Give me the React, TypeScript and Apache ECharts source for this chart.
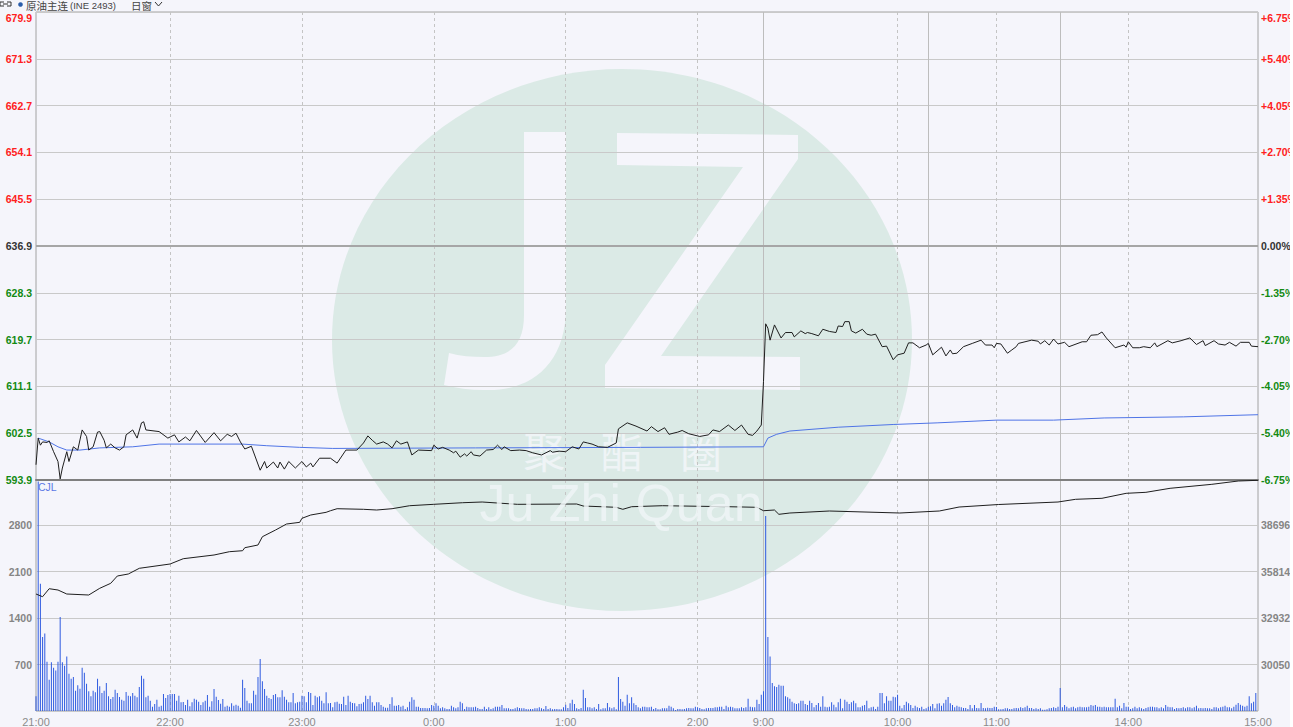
import React, { useEffect, useRef } from "react";
import * as echarts from "echarts";

const timeLabels: [number, string][] = [[0, "21:00"], [61, "22:00"], [121, "23:00"], [181, "0:00"], [241, "1:00"], [301, "2:00"], [331, "9:00"], [392, "10:00"], [437, "11:00"], [497, "14:00"], [556, "15:00"]];
const dashedTicks = [61, 121, 181, 241, 301, 392, 437, 497];
const solidTicks = [331, 406, 466];

const priceSeries: [number, number][] = [
[0,596.7],[1,601.6],[2,600.3],[3,600.9],[5,600.8],[6,601.1],[8,599.1],[10,597.3],[11,594.1],[12,596.1],[14,599.1],[15,597.3],[17,600],[19,599.4],[21,603.1],[23,601.9],[24,599.4],[26,600],[28,602.7],[29,602.8],[31,601.2],[32,599.8],[34,600.5],[36,599.8],[38,599.4],[40,600],[41,602.2],[44,603.1],[46,601.6],[48,604.4],[49,604.6],[50,603.1],[56,602.8],[60,601.6],[63,602.2],[65,600.9],[68,601.8],[70,601.1],[73,603],[77,600.8],[81,602.6],[84,601.1],[87,602.3],[89,601.9],[91,602.5],[93,600.9],[95,599.6],[98,600.1],[102,595.7],[104,597.3],[105,596.1],[108,597.2],[110,596.1],[111,597.2],[113,595.9],[115,597.3],[118,596.1],[121,597.3],[123,596.3],[125,597],[126,596.3],[129,597.9],[134,597.9],[137,597],[141,599.4],[146,599.4],[149,600.7],[151,602],[153,601.2],[155,600.5],[158,600.9],[160,600.5],[162,599.8],[164,601.1],[166,600.5],[169,600.9],[171,598.5],[174,599.4],[180,599.3],[181,600.3],[183,599.6],[185,599.9],[188,599.4],[190,598.9],[191,599.2],[193,598.1],[195,598.7],[196,598.3],[198,599.1],[199,598.5],[202,598.3],[205,599.4],[208,599.5],[210,600.3],[212,599.5],[213,600],[216,599.3],[220,599.4],[223,599.3],[226,598.9],[230,598.5],[234,599.3],[235,599],[238,599.2],[241,599.1],[244,600],[247,599.6],[249,600.9],[251,600.7],[253,600.5],[256,600],[260,599.9],[264,600.7],[265,603.3],[269,604.4],[273,603.8],[278,602.9],[280,603.7],[283,602.8],[286,603.5],[288,602.3],[292,602.7],[294,603],[297,602.4],[302,601.9],[306,602.2],[308,603.1],[311,602.8],[315,604],[318,603],[321,604],[324,602.3],[326,602.1],[328,602.9],[330,604],[331,612],[332,622.6],[333,621.8],[334,619.6],[336,622.4],[339,620],[341,621],[344,621],[345,620.2],[348,621.3],[350,620.8],[351,621],[353,620.8],[356,620.4],[358,621.6],[361,621.2],[364,621],[365,622.2],[367,622.1],[368,623],[370,623],[371,621.3],[373,620.9],[376,621.6],[378,620.7],[380,620.5],[382,620.7],[385,618.4],[387,618.5],[390,616],[392,616.9],[395,617.2],[397,619.1],[399,619.1],[402,618.2],[405,618.7],[406,619],[408,616.9],[412,618.3],[414,616.7],[416,617.8],[417,617.1],[419,617.2],[422,618.4],[426,619],[430,619.6],[432,618.7],[435,618.7],[436,618.2],[437,619],[439,618.9],[442,617.2],[444,617.8],[446,618.4],[447,619],[453,619.6],[456,619.4],[457,618.9],[459,619.5],[461,618.7],[463,619.8],[465,618.9],[468,619.2],[470,618.4],[476,619.3],[478,619.3],[480,620.5],[483,620.6],[485,621.1],[487,620],[491,618.2],[495,618.7],[496,618.3],[497,619.3],[499,618.2],[502,618.2],[504,618.4],[507,618.2],[509,619.1],[510,618.4],[515,619.5],[517,619.1],[521,619.5],[525,620],[528,618.8],[531,619.5],[532,618.6],[536,619.5],[538,618.9],[541,618.7],[543,619.2],[546,618.5],[548,619.2],[552,619.2],[553,618.5],[556,618.4]];

const averageSeries: [number, number][] = [
[1,601.6],[6,600.9],[10,600],[14,599.4],[20,599.4],[29,599.8],[44,600],[56,600.5],[75,600.5],[94,600.5],[105,600.2],[120,599.9],[135,599.7],[200,599.8],[275,599.9],[331,600],[333,601.6],[337,602.3],[343,602.9],[365,603.6],[390,604.1],[410,604.4],[437,604.9],[463,604.9],[486,605.3],[522,605.5],[556,605.9]];

const holdingSeries: [number, number][] = [
[0,34434],[3,34266],[6,34763],[10,34682],[14,34434],[24,34372],[29,34788],[34,35098],[37,35552],[42,35676],[47,36030],[61,36297],[67,36626],[81,36856],[88,37061],[94,37123],[95,37309],[101,37477],[103,37992],[109,38408],[114,38781],[120,38886],[121,39135],[125,39340],[132,39507],[134,39607],[137,39731],[149,39694],[155,39650],[162,39731],[170,39917],[181,40004],[194,40103],[203,40147],[219,40004],[246,40023],[249,39898],[264,39818],[267,39694],[271,39855],[285,39917],[315,39855],[328,39818],[331,39607],[336,39650],[338,39383],[343,39464],[361,39588],[393,39464],[411,39588],[420,39836],[438,39992],[465,40147],[473,40315],[485,40377],[496,40687],[505,40749],[516,40998],[535,41246],[547,41451],[556,41494]];

const volumeSeries = [
221,3460,1920,1117,1167,744,473,734,654,609,744,1418,734,684,820,563,488,513,307,387,337,654,578,412,297,221,307,282,488,372,272,307,423,221,181,211,322,272,211,171,156,287,231,221,272,231,206,362,533,488,206,231,156,65,106,171,65,80,257,196,
241,257,257,257,156,231,131,136,91,171,70,131,186,171,141,91,131,156,241,65,146,332,216,166,111,181,65,80,65,116,80,96,80,50,473,347,156,116,116,307,246,513,785,448,332,231,196,181,241,257,
206,206,312,216,171,131,131,272,116,131,141,231,221,131,287,272,91,231,206,221,156,116,282,116,121,55,131,141,111,106,216,91,231,141,121,116,70,106,111,131,231,181,231,131,80,131,131,91,65,50,
50,106,206,80,80,91,65,80,30,55,141,206,171,65,65,45,45,45,40,45,91,80,116,80,40,55,40,30,30,80,55,40,55,141,116,30,65,55,55,55,65,45,30,30,65,30,55,30,40,65,
65,65,91,40,40,40,30,30,40,55,45,40,40,30,25,30,30,40,40,55,40,30,75,30,40,25,30,30,25,25,55,96,45,116,171,106,40,30,45,322,196,55,55,40,55,30,106,25,40,40,
121,55,40,55,25,513,181,141,80,246,116,206,116,91,55,40,65,65,55,55,65,30,45,25,25,40,40,40,80,65,40,15,30,30,25,30,40,45,40,40,65,55,45,30,25,40,45,45,45,55,
55,65,65,30,80,55,65,55,40,40,40,55,45,55,186,65,55,55,171,106,246,297,2940,1117,820,423,372,362,397,382,382,221,206,186,141,116,106,116,156,156,106,91,156,121,55,91,121,65,221,65,55,65,131,96,
55,131,186,40,171,141,106,131,156,116,55,55,80,91,156,40,55,65,30,65,272,272,116,221,156,156,216,206,246,80,40,91,141,116,91,45,80,55,45,65,30,40,65,70,106,40,111,116,80,116,171,211,116,91,55,80,
65,55,45,45,30,91,40,91,45,40,121,45,40,50,45,45,65,60,25,25,30,40,40,30,30,40,45,40,55,45,55,80,45,45,30,40,30,40,20,20,25,40,45,55,45,65,347,55,91,65,
40,55,65,40,55,65,55,55,55,65,91,80,91,65,65,55,65,55,55,55,55,186,55,80,40,121,65,65,30,40,65,40,55,40,30,45,55,65,65,55,55,40,55,40,91,65,55,55,30,45,
40,45,55,40,55,55,40,55,80,40,45,40,45,40,40,30,55,55,40,55,65,80,55,55,40,65,96,121,96,80,65,80,221,116,141,272];

const percentStep = 1.35;
const priceMin = 593.9, priceMax = 679.9, priceStep = 8.6, priceBase = 636.9;
const holdMin = 27168, holdMax = 41514, holdStep = 2882;
const volMax = 3483, volStep = 700;

const fontFamily = '"Liberation Sans", Arial, sans-serif';
const cjk = '"Noto Sans CJK SC", sans-serif';
const J_PATH = "M524 132 L566 132 L566 307 C566 365 530 392 484 390 C470 390 456 388 444 385 L449 353 C460 356 472 357 484 357 C510 357 524 345 524 315 Z";
const Z_PATH = "M617 133 L798 135 L798 159 L661 356 L800 357 L800 390 L605 388 L605 365 L743 167 L617 165 Z";

export default function App() {
  const ref = useRef<HTMLDivElement>(null);
  useEffect(() => {
    document.body.style.margin = "0";
    document.body.style.background = "#f5f5fb";
    echarts.graphic.registerShape("wmJ", echarts.graphic.extendPath(J_PATH, {}));
    echarts.graphic.registerShape("wmZ", echarts.graphic.extendPath(Z_PATH, {}));
    const chart = echarts.init(ref.current!, undefined, { renderer: "svg" });
    const n = 557;
    const labelMap = new Map(timeLabels);
    const categories = Array.from({ length: n }, (_, i) => labelMap.get(i) ?? `m${i}`);
    const grids = [
      { left: 36, top: 12, width: 1222, height: 468, show: true, borderColor: "#a2a2a2", borderWidth: 1, backgroundColor: "transparent", outerBoundsMode: "none", containLabel: false },
      { left: 36, top: 480, width: 1222, height: 231, show: true, borderColor: "#a2a2a2", borderWidth: 1, backgroundColor: "transparent", outerBoundsMode: "none", containLabel: false },
    ];
    const xBase = (gridIndex: number) => ({
      type: "category" as const, gridIndex, data: categories, boundaryGap: false,
      axisTick: { show: false }, axisLabel: { show: false },
      axisLine: { show: false },
    });
    const dashed = { show: true, interval: (i: number) => dashedTicks.includes(i), lineStyle: { color: "#c4c4c4", type: [3, 3], width: 1 } };
    const solid = { show: true, interval: (i: number) => solidTicks.includes(i), lineStyle: { color: "#bdbdbd", type: "solid", width: 1 } };
    const gridLine = { show: true, lineStyle: { color: "#c9c9c9", width: 1 } };
    const priceColor = (v: number) => (v > priceBase + 0.01 ? "#ff2020" : v < priceBase - 0.01 ? "#128a12" : "#333333");
    chart.setOption({
      animation: false,
      grid: grids,
      xAxis: [
        { ...xBase(0), splitLine: dashed, axisLine: { show: true, onZero: false, lineStyle: { color: "#7f7f7f", width: 2 } } },
        { ...xBase(0), splitLine: solid },
        {
          ...xBase(1), splitLine: dashed,
          axisLabel: {
            show: true, interval: (i: number) => labelMap.has(i), color: "#8c8c8c", fontSize: 11, fontFamily, margin: 5, hideOverlap: false,
            showMinLabel: true, showMaxLabel: true,
          },
        },
        { ...xBase(1), splitLine: solid },
      ],
      yAxis: [
        {
          type: "value", gridIndex: 0, min: priceMin, max: priceMax, interval: priceStep, position: "left",
          axisLine: { show: false }, axisTick: { show: false }, splitLine: gridLine,
          axisLabel: {
            fontFamily, fontSize: 10.5, fontWeight: "bold", margin: 4, verticalAlignMaxLabel: "top",
            formatter: (v: number) => v.toFixed(1), color: (v: any) => priceColor(Number(v)),
          },
        },
        {
          type: "value", gridIndex: 0, min: -6.75, max: 6.75, interval: percentStep, position: "right",
          axisLine: { show: false }, axisTick: { show: false }, splitLine: { show: false },
          axisLabel: {
            fontFamily, fontSize: 10.5, fontWeight: "bold", margin: 3, verticalAlignMaxLabel: "top",
            formatter: (v: number) => (Math.abs(v) < 0.001 ? "0.00%" : (v > 0 ? "+" : "") + v.toFixed(2) + "%"),
            color: (v: any) => (Number(v) > 0.001 ? "#ff2020" : Number(v) < -0.001 ? "#128a12" : "#333333"),
          },
        },
        {
          type: "value", gridIndex: 1, min: 0, max: volMax, interval: volStep, position: "left",
          axisLine: { show: false }, axisTick: { show: false }, splitLine: gridLine,
          axisLabel: { fontFamily, fontSize: 10.5, fontWeight: "bold", margin: 4, color: "#858585", showMinLabel: false, showMaxLabel: false, formatter: (v: number) => String(v) },
        },
        {
          type: "value", gridIndex: 1, min: holdMin, max: holdMax, interval: holdStep, position: "right",
          axisLine: { show: false }, axisTick: { show: false }, splitLine: { show: false },
          axisLabel: { fontFamily, fontSize: 10.5, fontWeight: "bold", margin: 3, color: "#858585", showMinLabel: false, showMaxLabel: false, formatter: (v: number) => String(v) },
        },
      ],
      series: [
        {
          name: "均价", type: "line", xAxisIndex: 0, yAxisIndex: 0, data: averageSeries, showSymbol: false, symbol: "none",
          lineStyle: { color: "#4f74e6", width: 1 }, z: 3,
        },
        {
          name: "价格", type: "line", xAxisIndex: 0, yAxisIndex: 0, data: priceSeries, showSymbol: false, symbol: "none",
          lineStyle: { color: "#1e1e1e", width: 1 }, z: 4,
          markLine: {
            silent: true, symbol: "none", animation: false, label: { show: false },
            lineStyle: { color: "#a6a6a6", width: 2, type: "solid" }, data: [{ yAxis: priceBase }], z: 1,
          },
        },
        {
          name: "CJL", type: "bar", xAxisIndex: 2, yAxisIndex: 2, data: volumeSeries, barWidth: 1,
          itemStyle: { color: "#2f5be0" }, z: 2,
        },
        {
          name: "持仓量", type: "line", xAxisIndex: 2, yAxisIndex: 3, data: holdingSeries, showSymbol: false, symbol: "none",
          lineStyle: { color: "#1e1e1e", width: 1 }, z: 4,
        },
      ],
      graphic: [
        { type: "ellipse", z: -10, shape: { cx: 622, cy: 340, rx: 290, ry: 271 }, style: { fill: "#dbeae6" } },
        { type: "wmJ", z: -9, style: { fill: "#f5f5fb" } },
        { type: "wmZ", z: -9, style: { fill: "#f5f5fb" } },
        { type: "text", z: -8, x: 544, y: 449, style: { text: "聚", fill: "#eff4f6", font: `42px ${cjk}`, align: "center", verticalAlign: "middle" } },
        { type: "text", z: -8, x: 622, y: 449, style: { text: "酯", fill: "#eff4f6", font: `42px ${cjk}`, align: "center", verticalAlign: "middle" } },
        { type: "text", z: -8, x: 701, y: 449, style: { text: "圈", fill: "#eff4f6", font: `42px ${cjk}`, align: "center", verticalAlign: "middle" } },
        { type: "text", z: 5, x: 621, y: 503, style: { text: "Ju Zhi Quan", fill: "#eff4f6", opacity: 0.85, font: `52px ${fontFamily}`, align: "center", verticalAlign: "middle" } },
        { type: "text", z: 10, x: 38, y: 487, style: { text: "CJL", fill: "#5a78e6", font: `10.5px ${fontFamily}`, verticalAlign: "middle" } },
        { type: "polyline", z: 10, shape: { points: [[4, 2], [0, 2], [0, 6], [4, 6]] }, style: { stroke: "#333", fill: "none", lineWidth: 1 } },
        { type: "polyline", z: 10, shape: { points: [[7, 2], [11, 2], [11, 6], [7, 6]] }, style: { stroke: "#333", fill: "none", lineWidth: 1 } },
        { type: "line", z: 10, shape: { x1: 3, y1: 4, x2: 8, y2: 4 }, style: { stroke: "#333", lineWidth: 1 } },
        { type: "circle", z: 10, shape: { cx: 20.5, cy: 4.5, r: 2.3 }, style: { fill: "#2a5caa" } },
        { type: "text", z: 10, x: 26, y: 5.5, style: { text: "原油主连", fill: "#444", font: `10.5px ${cjk}`, verticalAlign: "middle" } },
        { type: "text", z: 10, x: 70, y: 5, style: { text: "(INE 2493)", fill: "#444", font: `9.5px ${fontFamily}`, verticalAlign: "middle" } },
        { type: "text", z: 10, x: 131, y: 5.5, style: { text: "日窗", fill: "#444", font: `10.5px ${cjk}`, verticalAlign: "middle" } },
        { type: "polyline", z: 10, shape: { points: [[155, 2], [158.5, 6], [162, 2]] }, style: { stroke: "#333", fill: "none", lineWidth: 1 } },
        { type: "rect", z: 20, shape: { x: 1290, y: 0, width: 3, height: 727 }, style: { fill: "#ffffff" } },
      ],
    });
    return () => chart.dispose();
  }, []);
  return <div ref={ref} style={{ position: "fixed", left: 0, top: 0, width: 1293, height: 727, background: "#f5f5fb" }} />;
}
